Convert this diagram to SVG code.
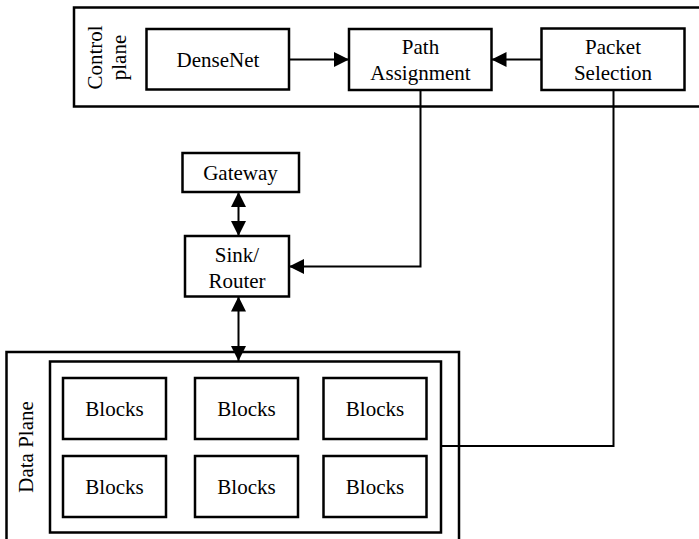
<svg xmlns="http://www.w3.org/2000/svg" width="699" height="539" viewBox="0 0 699 539">
<style>
.box{fill:#fff;stroke:#000;stroke-width:2.5}
.frame{fill:none;stroke:#000;stroke-width:2.5}
.t{font-family:'Liberation Serif','DejaVu Serif',serif;font-size:21px;fill:#000;text-anchor:middle}
.c{fill:none;stroke:#000;stroke-width:2}
</style>
<defs>
<marker id="ah" viewBox="0 0 15 15" refX="15" refY="7.5" markerWidth="15" markerHeight="15" markerUnits="userSpaceOnUse" orient="auto-start-reverse">
<path d="M0,0 L15,7.5 L0,15 z" fill="#000"/>
</marker>
</defs>
<rect width="699" height="539" fill="#fff"/>
<g id="control-plane">
<rect class="frame" x="74" y="7.5" width="640" height="99"/>
<text class="t" font-family="Liberation Serif, serif" transform="translate(102,57.5) rotate(-90)">Control</text>
<text class="t" font-family="Liberation Serif, serif" transform="translate(125.5,57.5) rotate(-90)">plane</text>
</g>
<g id="densenet">
<rect class="box" x="146.5" y="29" width="142.5" height="60.5"/>
<text class="t" x="218" y="66.5">DenseNet</text>
</g>
<g id="path-assignment">
<rect class="box" x="349" y="29" width="142.5" height="61"/>
<text class="t" x="420.5" y="54">Path</text>
<text class="t" x="420.5" y="80">Assignment</text>
</g>
<g id="packet-selection">
<rect class="box" x="541.5" y="28.5" width="143" height="61.5"/>
<text class="t" x="613" y="54">Packet</text>
<text class="t" x="613" y="80">Selection</text>
</g>
<g id="gateway">
<rect class="box" x="182.5" y="153" width="116.5" height="39"/>
<text class="t" x="240.5" y="180">Gateway</text>
</g>
<g id="sink-router">
<rect class="box" x="185" y="236" width="104" height="60.5"/>
<text class="t" x="237" y="262">Sink/</text>
<text class="t" x="237" y="288">Router</text>
</g>
<g id="data-plane">
<rect class="frame" x="6.5" y="352" width="452.5" height="200"/>
<text class="t" transform="translate(32.5,447) rotate(-90)">Data Plane</text>
<rect class="box" x="50" y="361.5" width="391" height="171"/>
</g>
<g id="block-1"><rect class="box" x="63" y="378" width="103" height="61"/><text class="t" x="114.5" y="416">Blocks</text></g>
<g id="block-2"><rect class="box" x="195" y="378" width="103" height="61"/><text class="t" x="246.5" y="416">Blocks</text></g>
<g id="block-3"><rect class="box" x="323.5" y="378" width="103" height="61"/><text class="t" x="375" y="416">Blocks</text></g>
<g id="block-4"><rect class="box" x="63" y="456" width="103" height="61"/><text class="t" x="114.5" y="494">Blocks</text></g>
<g id="block-5"><rect class="box" x="195" y="456" width="103" height="61"/><text class="t" x="246.5" y="494">Blocks</text></g>
<g id="block-6"><rect class="box" x="323.5" y="456" width="103" height="61"/><text class="t" x="375" y="494">Blocks</text></g>
<g id="connectors">
<line class="c" x1="289" y1="59.5" x2="349" y2="59.5" marker-end="url(#ah)"/>
<line class="c" x1="541.5" y1="59.5" x2="491.5" y2="59.5" marker-end="url(#ah)"/>
<polyline class="c" points="420.5,90 420.5,266.5 289,266.5" marker-end="url(#ah)"/>
<polyline class="c" points="613.5,90 613.5,446 441,446"/>
<line class="c" x1="238.5" y1="192" x2="238.5" y2="236" marker-start="url(#ah)" marker-end="url(#ah)"/>
<line class="c" x1="238.5" y1="296.5" x2="238.5" y2="361" marker-start="url(#ah)" marker-end="url(#ah)"/>
</g>
</svg>
